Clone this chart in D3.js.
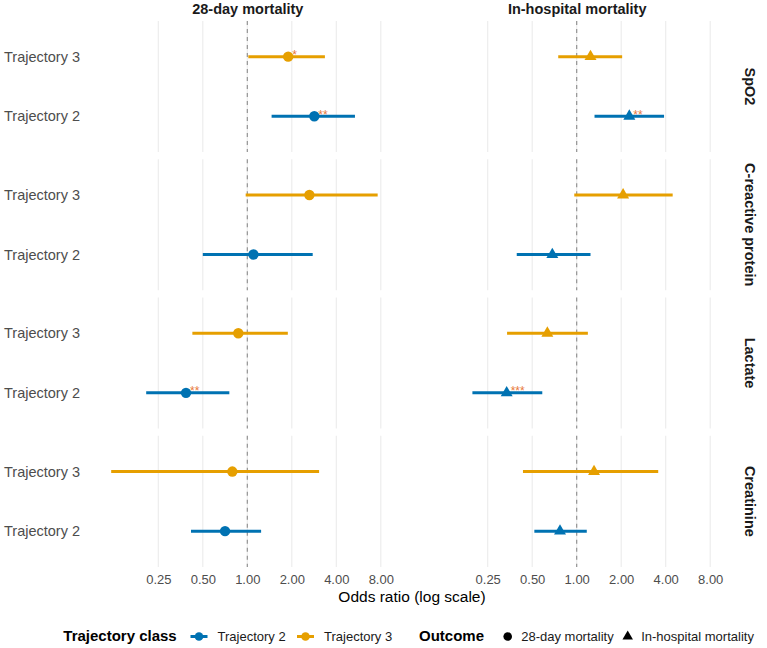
<!DOCTYPE html>
<html>
<head>
<meta charset="utf-8">
<script src="https://cdn.jsdelivr.net/npm/d3@7"></script>
<style>
  html, body { margin: 0; padding: 0; background: #ffffff; }
  svg { display: block; font-family: "Liberation Sans", Arial, sans-serif; }
</style>
</head>
<body>
<svg id="chart" width="767" height="648"></svg>
<script>
// ---------------- data ----------------
const biomarkers = ["SpO2", "C-reactive protein", "Lactate", "Creatinine"];
const outcomes = ["28-day mortality", "In-hospital mortality"];
const classes = ["Trajectory 3", "Trajectory 2"]; // top to bottom within a panel
const legendClasses = ["Trajectory 2", "Trajectory 3"];

// 28-day mortality
const or28T2  = [2.84, 1.10, 0.385, 0.707];
const lo28T2  = [1.46, 0.50, 0.207, 0.416];
const hi28T2  = [5.35, 2.77, 0.756, 1.24];
const sig28T2 = ["**", "", "**", ""];
const or28T3  = [1.89, 2.63, 0.869, 0.792];
const lo28T3  = [1.016, 0.975, 0.425, 0.120];
const hi28T3  = [3.35, 7.62, 1.88, 3.06];
const sig28T3 = ["*", "", "", ""];
// In-hospital mortality
const orHospT2  = [2.27, 0.684, 0.336, 0.771];
const loHospT2  = [1.32, 0.393, 0.197, 0.517];
const hiHospT2  = [3.90, 1.24, 0.585, 1.17];
const sigHospT2 = ["**", "", "***", ""];
const orHospT3  = [1.24, 2.06, 0.633, 1.31];
const loHospT3  = [0.75, 0.963, 0.338, 0.433];
const hiHospT3  = [2.03, 4.46, 1.19, 3.56];
const sigHospT3 = ["", "", "", ""];

const xTicks = [0.25, 0.5, 1, 2, 4, 8];
const xLimits = [0.1, 10];

// ---------------- build table ----------------
const series = [
  { outcome: outcomes[0], cls: "Trajectory 2", or: or28T2, lo: lo28T2, hi: hi28T2, sig: sig28T2 },
  { outcome: outcomes[0], cls: "Trajectory 3", or: or28T3, lo: lo28T3, hi: hi28T3, sig: sig28T3 },
  { outcome: outcomes[1], cls: "Trajectory 2", or: orHospT2, lo: loHospT2, hi: hiHospT2, sig: sigHospT2 },
  { outcome: outcomes[1], cls: "Trajectory 3", or: orHospT3, lo: loHospT3, hi: hiHospT3, sig: sigHospT3 }
];
const rows = [];
series.forEach(s => biomarkers.forEach((b, i) => rows.push({
  outcome: s.outcome, cls: s.cls, biomarker: b,
  or: s.or[i], lo: s.lo[i], hi: s.hi[i], sig: s.sig[i]
})));

// ---------------- layout ----------------
const colors = { "Trajectory 2": "#0072B2", "Trajectory 3": "#E69F00" };
const starColor = "#E8793A";
const panelW = 325.2, gapX = 4.2, left0 = 84.7;
const panelH = 131.1, gapY = 7.2, top0 = 20.9;

const svg = d3.select("#chart");

const lg = [Math.log10(xLimits[0]), Math.log10(xLimits[1])];
const ex = (lg[1] - lg[0]) * 0.05;
const xDomain = [Math.pow(10, lg[0] - ex), Math.pow(10, lg[1] + ex)];

const xScales = outcomes.map((o, j) => {
  const l = left0 + j * (panelW + gapX);
  return d3.scaleLog().domain(xDomain).range([l, l + panelW]);
});
const yScales = biomarkers.map((b, i) => {
  const t = top0 + i * (panelH + gapY);
  return d3.scalePoint().domain(classes).range([t, t + panelH]).padding(0.6);
});

// gridlines + reference line
outcomes.forEach((o, j) => {
  const x = xScales[j];
  biomarkers.forEach((b, i) => {
    const t = top0 + i * (panelH + gapY);
    const g = svg.append("g");
    g.selectAll("line.grid").data(xTicks).enter().append("line")
      .attr("x1", d => x(d)).attr("x2", d => x(d))
      .attr("y1", t).attr("y2", t + panelH)
      .attr("stroke", "#EBEBEB").attr("stroke-width", 1.1);
    g.append("line")
      .attr("x1", x(1)).attr("x2", x(1))
      .attr("y1", t).attr("y2", t + panelH)
      .attr("stroke", "#8C8C8C").attr("stroke-width", 1.1)
      .attr("stroke-dasharray", "4,4");
  });
});

// marks
const mark = svg.append("g");
rows.forEach(r => {
  const j = outcomes.indexOf(r.outcome);
  const i = biomarkers.indexOf(r.biomarker);
  const x = xScales[j], y = yScales[i];
  const cy = y(r.cls);
  mark.append("line")
    .attr("x1", x(r.lo)).attr("x2", x(r.hi))
    .attr("y1", cy).attr("y2", cy)
    .attr("stroke", colors[r.cls]).attr("stroke-width", 3);
  if (j === 0) {
    mark.append("circle").attr("cx", x(r.or)).attr("cy", cy).attr("r", 5.2)
      .attr("fill", colors[r.cls]);
  } else {
    mark.append("path")
      .attr("d", d3.symbol(d3.symbolTriangle, 62)())
      .attr("transform", `translate(${x(r.or)},${cy})`)
      .attr("fill", colors[r.cls]);
  }
  if (r.sig) {
    mark.append("text")
      .attr("x", x(r.or) + 4).attr("y", cy + 2.5)
      .attr("font-size", 12).attr("fill", starColor)
      .attr("text-anchor", "start")
      .text(r.sig);
  }
});

// y-axis labels (left of first column)
biomarkers.forEach((b, i) => {
  const y = yScales[i];
  svg.append("g").selectAll("text").data(classes).enter().append("text")
    .attr("x", 80).attr("y", d => y(d))
    .attr("dy", "0.35em")
    .attr("text-anchor", "end")
    .attr("font-size", 14.5).attr("fill", "#4D4D4D")
    .text(d => d);
});

// x axes
const bottom = top0 + 4 * panelH + 3 * gapY;
xScales.forEach(x => {
  const ax = svg.append("g").attr("transform", `translate(0,${bottom})`)
    .call(d3.axisBottom(x).tickValues(xTicks).tickFormat(d3.format(".2f")).tickSize(0).tickPadding(0));
  ax.select(".domain").remove();
  ax.selectAll("text")
    .attr("y", 0).attr("dy", 0)
    .attr("transform", "translate(0,17)")
    .attr("font-size", 13).attr("fill", "#4D4D4D")
    .attr("font-family", "Liberation Sans, Arial, sans-serif");
});

// axis title
svg.append("text")
  .attr("x", (left0 + left0 + 2 * panelW + gapX) / 2).attr("y", 602)
  .attr("text-anchor", "middle").attr("font-size", 15.5).attr("fill", "#000")
  .text("Odds ratio (log scale)");

// top strips
outcomes.forEach((o, j) => {
  const x = xScales[j];
  svg.append("text")
    .attr("x", (x.range()[0] + x.range()[1]) / 2 + 0.5).attr("y", 13.5)
    .attr("text-anchor", "middle").attr("font-size", 14.5)
    .attr("font-weight", "bold").attr("fill", "#1A1A1A")
    .text(o);
});

// right strips
biomarkers.forEach((b, i) => {
  const cy = top0 + i * (panelH + gapY) + panelH / 2;
  svg.append("text")
    .attr("transform", `translate(750,${cy}) rotate(90)`)
    .attr("text-anchor", "middle").attr("dy", "0.35em")
    .attr("font-size", 14.5).attr("font-weight", "bold").attr("fill", "#1A1A1A")
    .text(b);
});

// legend
const leg = svg.append("g");
const legY = 636.5, legBase = 641;
leg.append("text").attr("x", 63.3).attr("y", legBase)
  .attr("font-size", 15).attr("font-weight", "bold").attr("fill", "#000")
  .text("Trajectory class");
const clsKeyX = [199, 305.5];
legendClasses.forEach((c, k) => {
  const cx = clsKeyX[k];
  leg.append("line").attr("x1", cx - 8.5).attr("x2", cx + 8.5)
    .attr("y1", legY).attr("y2", legY)
    .attr("stroke", colors[c]).attr("stroke-width", 3);
  leg.append("circle").attr("cx", cx).attr("cy", legY).attr("r", 4.3).attr("fill", colors[c]);
  leg.append("text").attr("x", cx + 18.5).attr("y", legBase)
    .attr("font-size", 13).attr("fill", "#1A1A1A").text(c);
});
leg.append("text").attr("x", 419).attr("y", legBase)
  .attr("font-size", 15).attr("font-weight", "bold").attr("fill", "#000")
  .text("Outcome");
const outKeyX = [507.7, 627.7];
outcomes.forEach((o, k) => {
  const cx = outKeyX[k];
  if (k === 0) {
    leg.append("circle").attr("cx", cx).attr("cy", legY).attr("r", 4.3).attr("fill", "#000");
  } else {
    leg.append("path").attr("d", d3.symbol(d3.symbolTriangle, 48)())
      .attr("transform", `translate(${cx},${legY})`).attr("fill", "#000");
  }
  leg.append("text").attr("x", cx + 13.5).attr("y", legBase)
    .attr("font-size", 13).attr("fill", "#1A1A1A").text(o);
});
</script>
</body>
</html>
